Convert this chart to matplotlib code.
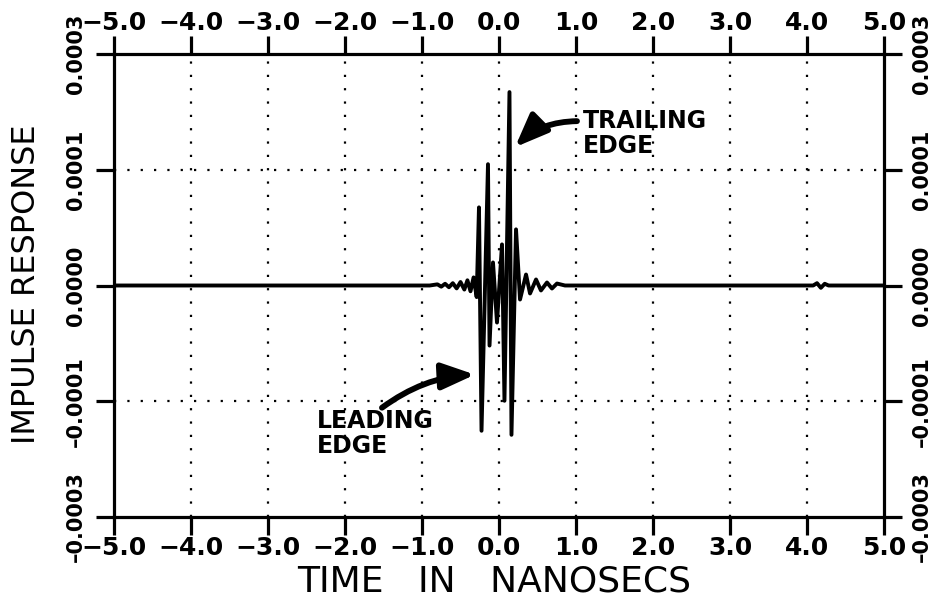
import numpy as np
import matplotlib
matplotlib.use("Agg")
import matplotlib.pyplot as plt

# ---- data ----
time_ns = [-5.0, -0.90, -0.80, -0.75, -0.70, -0.65, -0.60, -0.55, -0.50, -0.45,
           -0.41, -0.37, -0.33, -0.29, -0.26, -0.227, -0.143, -0.123, -0.078,
           -0.026, 0.039, 0.071, 0.136, 0.162, 0.221, 0.273, 0.351, 0.403,
           0.481, 0.545, 0.623, 0.688, 0.753, 0.857, 4.08, 4.13, 4.18, 4.23,
           4.28, 5.0]
response_e4 = [0, 0, 0.01, -0.01, 0.015, -0.015, 0.02, -0.025, 0.03, -0.035,
               0.045, -0.05, 0.07, -0.10, 0.675, -1.255, 1.048, -0.519, 0.199,
               -0.320, 0.355, -0.996, 1.671, -1.290, 0.485, -0.121, 0.095,
               -0.069, 0.052, -0.043, 0.026, -0.026, 0.017, 0, 0, 0.02, -0.02,
               0.015, 0, 0]

x_ticks = [-5.0, -4.0, -3.0, -2.0, -1.0, 0.0, 1.0, 2.0, 3.0, 4.0, 5.0]
x_tick_labels = ["\u22125.0", "\u22124.0", "\u22123.0", "\u22122.0", "\u22121.0",
                 "0.0", "1.0", "2.0", "3.0", "4.0", "5.0"]
y_ticks = [-0.0002, -0.0001, 0.0, 0.0001, 0.0002]
y_tick_labels = ["\u20130.0003", "\u20130.0001", "0.0000", "0.0001", "0.0003"]
grid_x = [-4.0, -3.0, -2.0, -1.0, 0.0, 1.0, 2.0, 3.0, 4.0]
grid_y = [-0.0001, 0.0001]

response = np.array(response_e4) * 1e-4

plt.rcParams['font.family'] = ['DejaVu Sans']
plt.rcParams['font.weight'] = 'bold'

fig = plt.figure(figsize=(9.36, 6.11), dpi=100)
ax = fig.add_axes([114 / 936, 1 - 517 / 611, 770 / 936, 463 / 611])

ax.set_xlim(-5, 5)
ax.set_ylim(-0.0002, 0.0002)

# dotted grid
for gx in grid_x:
    ax.axvline(gx, color='black', lw=1.6, ls=(0, (1, 5)), zorder=1)
for gy in grid_y:
    ax.axhline(gy, color='black', lw=1.6, ls=(0, (1, 5)), zorder=1)

ax.plot(time_ns, response, color='black', lw=2.8, solid_joinstyle='round', zorder=3)

for s in ax.spines.values():
    s.set_linewidth(2.3)

ax.set_xticks(x_ticks)
ax.set_xticklabels(x_tick_labels)
ax.set_yticks(y_ticks)
ax.set_yticklabels(y_tick_labels)

ax.tick_params(axis='x', which='both', direction='out', length=13, width=2.3,
               top=True, labeltop=True, bottom=True, labelbottom=True,
               labelsize=18, pad=1)
ax.tick_params(axis='y', which='both', direction='out', length=13, width=2.3,
               left=True, labelleft=True, right=True, labelright=True,
               labelsize=15, pad=7, labelrotation=90)
for t in ax.yaxis.get_major_ticks():
    t.label1.set_va('center')
    t.label2.set_va('center')

# axis titles
fig.text(494 / 936, 1 - 582 / 611, "TIME   IN   NANOSECS", ha='center', va='center',
         fontsize=26, fontweight='normal')
fig.text(27 / 936, 1 - 284 / 611, "IMPULSE RESPONSE", ha='center', va='center',
         rotation=90, fontsize=23, fontweight='normal')

# annotations
arrow_style = '-|>,head_length=1.0,head_width=0.4'
ax.text(1.09, 0.000131, "TRAILING\nEDGE", ha='left', va='center',
        fontsize=17, fontweight='heavy', linespacing=1.05)
ax.annotate("", xy=(0.208, 0.0001195), xytext=(1.013, 0.000142),
            arrowprops=dict(arrowstyle=arrow_style,
                            connectionstyle='arc3,rad=0.2', lw=4.2, color='black',
                            mutation_scale=20, shrinkA=0, shrinkB=0))
ax.text(-2.36, -0.000128, "LEADING\nEDGE", ha='left', va='center',
        fontsize=17, fontweight='heavy', linespacing=1.05)
ax.annotate("", xy=(-0.312, -0.000077), xytext=(-1.52, -0.0001056),
            arrowprops=dict(arrowstyle=arrow_style,
                            connectionstyle='arc3,rad=-0.15', lw=4.2, color='black',
                            mutation_scale=20, shrinkA=0, shrinkB=0))

fig.savefig("out.png", dpi=100)
